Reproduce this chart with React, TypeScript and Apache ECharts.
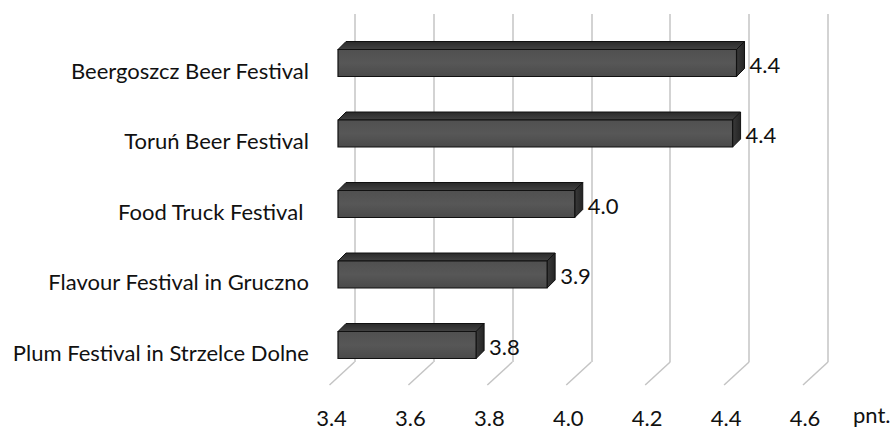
import React, { useEffect, useRef } from "react";
import * as echarts from "echarts";

const categories = [
  "Beergoszcz Beer Festival",
  "Toruń Beer Festival",
  "Food Truck Festival ",
  "Flavour Festival in Gruczno",
  "Plum Festival in Strzelce Dolne",
];
const values = [4.41, 4.4, 4.0, 3.93, 3.75];
const tickValues = [3.4, 3.6, 3.8, 4.0, 4.2, 4.4, 4.6];
const axisMin = 3.4;
const axisMax = 4.6;
const axisStep = 0.2;
const unitLabel = "pnt.";

const FONT = "Lato, 'Open Sans', sans-serif";
const GRID_COLOR = "#c4c4c4";

export default function App() {
  const ref = useRef<HTMLDivElement>(null);

  useEffect(() => {
    if (!ref.current) return;
    const chart = echarts.init(ref.current, undefined, { renderer: "svg" });
    const D = 8; // bar depth
    const BAR_H = 27;

    const option: any = {
      animation: false,
      backgroundColor: "#ffffff",
      grid: [
        // back wall
        { left: 354.5, top: 14, width: 473.5, height: 348 },
        // front floor edge (tick labels)
        { left: 331.5, top: 14, width: 473.5, height: 371 },
        // bars
        { left: 338, top: 27.75, width: 473.5, height: 352.5 },
        // category labels
        { left: 338, top: 35, width: 473.5, height: 352.5 },
      ],
      xAxis: [
        {
          gridIndex: 0,
          type: "value",
          min: axisMin,
          max: axisMax,
          interval: axisStep,
          axisLine: { show: false },
          axisTick: { show: false },
          axisLabel: { show: false },
          splitLine: { show: true, lineStyle: { color: GRID_COLOR, width: 1.5 } },
        },
        {
          gridIndex: 1,
          type: "value",
          min: axisMin,
          max: axisMax,
          interval: axisStep,
          axisLine: { show: false },
          axisTick: { show: false },
          splitLine: { show: false },
          axisLabel: {
            show: true,
            margin: 21,
            fontFamily: FONT,
            fontSize: 22,
            color: "#111",
            formatter: (v: number) => v.toFixed(1),
          },
        },
        {
          gridIndex: 2,
          type: "value",
          min: axisMin,
          max: axisMax,
          interval: axisStep,
          show: false,
        },
        {
          gridIndex: 3,
          type: "value",
          min: axisMin,
          max: axisMax,
          interval: axisStep,
          show: false,
        },
      ],
      yAxis: [
        { gridIndex: 0, type: "value", min: 0, max: 1, show: false },
        { gridIndex: 1, type: "value", min: 0, max: 1, show: false },
        {
          gridIndex: 2,
          type: "category",
          inverse: true,
          data: categories,
          show: false,
        },
        {
          gridIndex: 3,
          type: "category",
          inverse: true,
          data: categories,
          axisLine: { show: false },
          axisTick: { show: false },
          splitLine: { show: false },
          axisLabel: {
            margin: 29,
            fontFamily: FONT,
            fontSize: 22,
            color: "#111",
          },
        },
      ],
      graphic: [
        {
          type: "text",
          left: 853,
          top: 403,
          style: { text: unitLabel, font: `22px ${FONT}`, fill: "#111" },
        },
      ],
      series: [
        {
          type: "custom",
          xAxisIndex: 0,
          yAxisIndex: 0,
          silent: true,
          data: tickValues.map((v) => [v, 0]),
          renderItem: (params: any, api: any) => {
            const p = api.coord([api.value(0), 0]);
            return {
              type: "line",
              shape: { x1: p[0], y1: p[1], x2: p[0] - 25, y2: p[1] + 23 },
              style: { stroke: GRID_COLOR, lineWidth: 1.5 },
            };
          },
        },
        {
          type: "custom",
          xAxisIndex: 2,
          yAxisIndex: 2,
          silent: true,
          data: values.map((v, i) => [v, i]),
          renderItem: (params: any, api: any) => {
            const v = api.value(0);
            const c = api.value(1);
            const p0 = api.coord([axisMin, c]);
            const p1 = api.coord([v, c]);
            const x0 = p0[0];
            const x1 = p1[0];
            const yc = p1[1];
            const yt = yc - BAR_H / 2;
            const yb = yc + BAR_H / 2;
            const label = (Math.round(v * 10) / 10).toFixed(1);
            return {
              type: "group",
              children: [
                {
                  type: "polygon",
                  shape: {
                    points: [
                      [x0, yt],
                      [x0 + D, yt - D],
                      [x1 + D, yt - D],
                      [x1, yt],
                    ],
                  },
                  style: {
                    fill: new echarts.graphic.LinearGradient(0, 0, 0, 1, [
                      { offset: 0, color: "#2a2a2a" },
                      { offset: 1, color: "#424242" },
                    ]),
                    stroke: "#111",
                    lineWidth: 1,
                  },
                },
                {
                  type: "polygon",
                  shape: {
                    points: [
                      [x1, yt],
                      [x1 + D, yt - D],
                      [x1 + D, yb - D],
                      [x1, yb],
                    ],
                  },
                  style: {
                    fill: new echarts.graphic.LinearGradient(0, 0, 1, 0, [
                      { offset: 0, color: "#3a3a3a" },
                      { offset: 1, color: "#242424" },
                    ]),
                    stroke: "#111",
                    lineWidth: 1,
                  },
                },
                {
                  type: "rect",
                  shape: { x: x0, y: yt, width: x1 - x0, height: BAR_H },
                  style: {
                    fill: new echarts.graphic.LinearGradient(0, 0, 0, 1, [
                      { offset: 0, color: "#505050" },
                      { offset: 0.5, color: "#575757" },
                      { offset: 1, color: "#4a4a4a" },
                    ]),
                    stroke: "#111",
                    lineWidth: 1.2,
                  },
                },
                {
                  type: "text",
                  x: x1 + D + 5,
                  y: yc + 1,
                  style: {
                    text: label,
                    font: `22px ${FONT}`,
                    fill: "#111",
                    align: "left",
                    verticalAlign: "middle",
                  },
                },
              ],
            };
          },
        },
      ],
    };

    chart.setOption(option);
    return () => chart.dispose();
  }, []);

  return (
    <div
      ref={ref}
      style={{ position: "fixed", left: 0, top: 0, width: 895, height: 429 }}
    />
  );
}
